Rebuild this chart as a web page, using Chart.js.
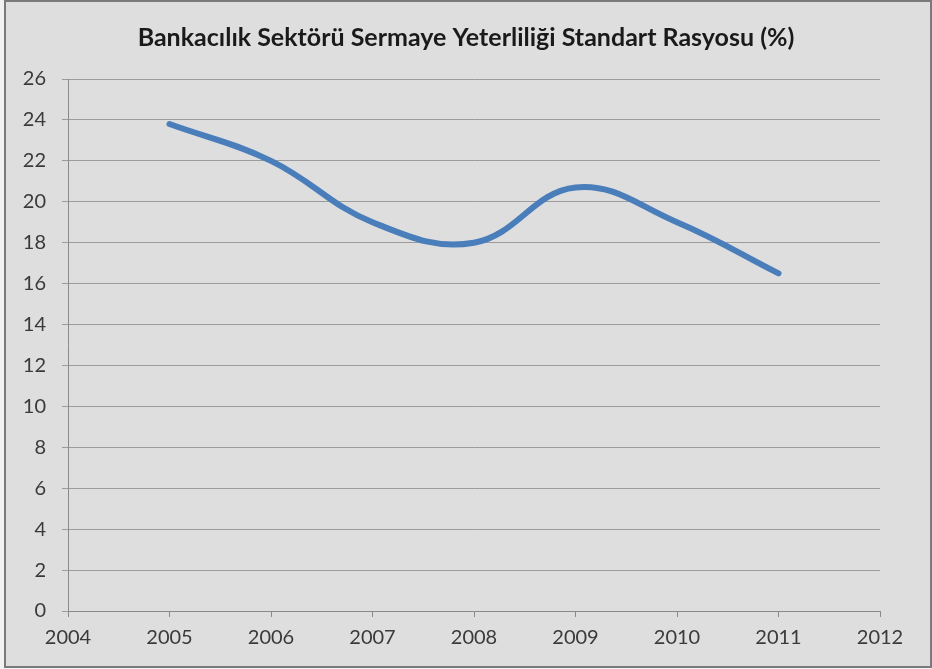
<!DOCTYPE html>
<html>
<head>
<meta charset="utf-8">
<script src="https://cdn.jsdelivr.net/npm/chart.js@4/dist/chart.umd.min.js"></script>
<style>
  html, body { margin: 0; padding: 0; background: #f2f2f2; }
  #wrap { position: absolute; left: 0; top: 0; width: 932px; height: 669px; }
</style>
</head>
<body>
<div id="wrap"><canvas id="chart" width="932" height="669"></canvas></div>
<script>
// データ
const chartTitle = 'Bankacılık Sektörü Sermaye Yeterliliği Standart Rasyosu (%)';
const years = [2005, 2006, 2007, 2008, 2009, 2010, 2011];
const ratios = [23.8, 22.0, 19.0, 18.0, 20.7, 19.0, 16.5];
const yearTicks = [2004, 2005, 2006, 2007, 2008, 2009, 2010, 2011, 2012];

const points = years.map((y, i) => ({ x: y, y: ratios[i] }));

// 背景と枠線を描くプラグイン
const framePlugin = {
    id: 'frame',
    beforeDraw: (chart) => {
        const { ctx, width, height } = chart;
        ctx.save();
        ctx.fillStyle = '#dedede';
        ctx.fillRect(5, 0, width - 5, height - 2);
        ctx.strokeStyle = '#7a7a7a';
        ctx.lineWidth = 2;
        ctx.strokeRect(5, 1, width - 6, height - 3);
        ctx.restore();
    }
};

new Chart(document.getElementById('chart').getContext('2d'), {
    type: 'line',
    data: {
        datasets: [{
            label: chartTitle,
            data: points,
            borderColor: '#4a7ebb',
            borderWidth: 6,
            borderCapStyle: 'round',
            pointRadius: 0,
            fill: false,
            tension: 0.4
        }]
    },
    plugins: [framePlugin],
    options: {
        responsive: false,
        animation: false,
        layout: { padding: 0 },
        plugins: {
            legend: { display: false },
            tooltip: { enabled: false },
            title: {
                display: true,
                text: chartTitle,
                color: '#1a1a1a',
                font: { family: 'Lato', size: 25, weight: 'bold', lineHeight: 1.2 },
                padding: { top: 23, bottom: 26 }
            }
        },
        scales: {
            x: {
                type: 'linear',
                min: 2004,
                max: 2012,
                afterBuildTicks: (scale) => { scale.ticks = yearTicks.map(v => ({ value: v })); },
                afterFit: (scale) => { scale.height = 669 - 611; },
                ticks: {
                    callback: (v) => String(v),
                    color: '#3a3a3a',
                    font: { family: 'Lato', size: 20 },
                    padding: 9,
                    maxRotation: 0
                },
                grid: { drawOnChartArea: false, tickLength: 6, color: '#8a8a8a' },
                border: { color: '#8a8a8a' }
            },
            y: {
                min: 0,
                max: 26,
                ticks: {
                    stepSize: 2,
                    color: '#3a3a3a',
                    font: { family: 'Lato', size: 20 },
                    padding: 16
                },
                afterFit: (scale) => { scale.width = 68; },
                grid: { color: '#9c9c9c', tickLength: 6 },
                border: { color: '#8a8a8a' }
            },
            // 右側の余白用（何も描かない軸）
            yRight: {
                position: 'right',
                min: 0,
                max: 26,
                ticks: { display: false },
                grid: { display: false },
                border: { display: false },
                afterFit: (scale) => { scale.width = 52; }
            }
        }
    }
});
</script>
</body>
</html>
